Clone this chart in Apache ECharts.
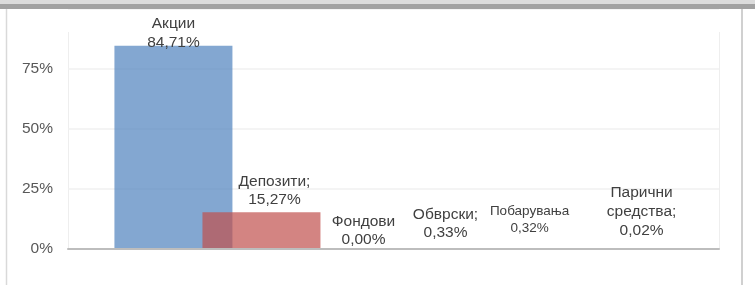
<!DOCTYPE html>
<html>
<head>
<meta charset="utf-8">
<script src="https://cdn.jsdelivr.net/npm/echarts@6/dist/echarts.min.js"></script>
<style>
html,body{margin:0;padding:0;background:#fff;}
#c{width:755px;height:285px;}
</style>
</head>
<body>
<div id="c"></div>
<script>
const names = ['Акции', 'Депозити', 'Фондови', 'Обврски', 'Побарувања', 'Парични средства'];
const values = [84.71, 15.27, 0.00, 0.33, 0.32, 0.02];
const valueLabels = ['84,71%', '15,27%', '0,00%', '0,33%', '0,32%', '0,02%'];
const nameLabels = ['Акции', 'Депозити;', 'Фондови', 'Обврски;', 'Побарувања', 'Парични\nсредства;'];
const yTicks = [0, 25, 50, 75, 100];

const colors = ['rgba(79,129,189,0.7)', 'rgba(192,80,77,0.7)', 'rgba(155,187,89,0.7)',
                'rgba(128,100,162,0.7)', 'rgba(75,172,198,0.7)', 'rgba(247,150,70,0.7)'];
const labelStyle = [
  {offset: [0, 11], fontSize: 15.5, lineHeight: 18.5},
  {offset: [13, 2], fontSize: 15.5, lineHeight: 18.5},
  {offset: [14, 5], fontSize: 15.5, lineHeight: 18.5},
  {offset: [8, -1], fontSize: 15.5, lineHeight: 18},
  {offset: [4, -7], fontSize: 13.5, lineHeight: 16.5},
  {offset: [28, -4], fontSize: 15.5, lineHeight: 19}
];

const chart = echarts.init(document.getElementById('c'));
const series = names.map((n, i) => ({
  name: n,
  type: 'bar',
  data: [values[i]],
  barWidth: 118,
  barGap: '-25.4%',
  itemStyle: {color: colors[i]},
  label: {
    show: true,
    position: 'top',
    distance: 5,
    offset: labelStyle[i].offset,
    formatter: nameLabels[i] + '\n' + valueLabels[i],
    color: '#404040',
    fontFamily: 'Liberation Sans, Arial, sans-serif',
    fontSize: labelStyle[i].fontSize,
    lineHeight: labelStyle[i].lineHeight,
    align: 'center'
  }
}));

chart.setOption({
  animation: false,
  backgroundColor: '#fff',
  grid: {left: 68, right: 36, top: 9, bottom: 36},
  xAxis: {
    type: 'category',
    data: [''],
    z: 5,
    axisLine: {show: true, lineStyle: {color: '#bdbdbd', width: 2}},
    axisTick: {show: false},
    axisLabel: {show: false},
    splitLine: {show: false}
  },
  yAxis: {
    type: 'value',
    min: yTicks[0],
    max: yTicks[yTicks.length - 1],
    interval: 25,
    axisLine: {show: false},
    axisTick: {show: false},
    axisLabel: {
      margin: 15,
      color: '#595959',
      fontFamily: 'Liberation Sans, Arial, sans-serif',
      fontSize: 15.5,
      formatter: v => v >= 100 ? '' : v + '%'
    },
    splitLine: {lineStyle: {color: '#f0f0f0', width: 1.5}}
  },
  graphic: [
    {type: 'rect', shape: {x: 0, y: 0, width: 755, height: 4}, style: {fill: '#dcdcdc'}, z: 100},
    {type: 'rect', shape: {x: 0, y: 4, width: 755, height: 5}, style: {fill: '#a2a2a2'}, z: 100},
    {type: 'line', shape: {x1: 6.5, y1: 9, x2: 6.5, y2: 285}, style: {stroke: '#d9d9d9', lineWidth: 1.5}, z: 100},
    {type: 'line', shape: {x1: 742, y1: 9, x2: 742, y2: 285}, style: {stroke: '#d0d0d0', lineWidth: 2}, z: 100},
    {type: 'line', shape: {x1: 68.5, y1: 32, x2: 68.5, y2: 249}, style: {stroke: '#eeeeee', lineWidth: 1}, z: 0},
    {type: 'line', shape: {x1: 719.5, y1: 32, x2: 719.5, y2: 249}, style: {stroke: '#eeeeee', lineWidth: 1}, z: 0}
  ],
  series: series
});
</script>
</body>
</html>
